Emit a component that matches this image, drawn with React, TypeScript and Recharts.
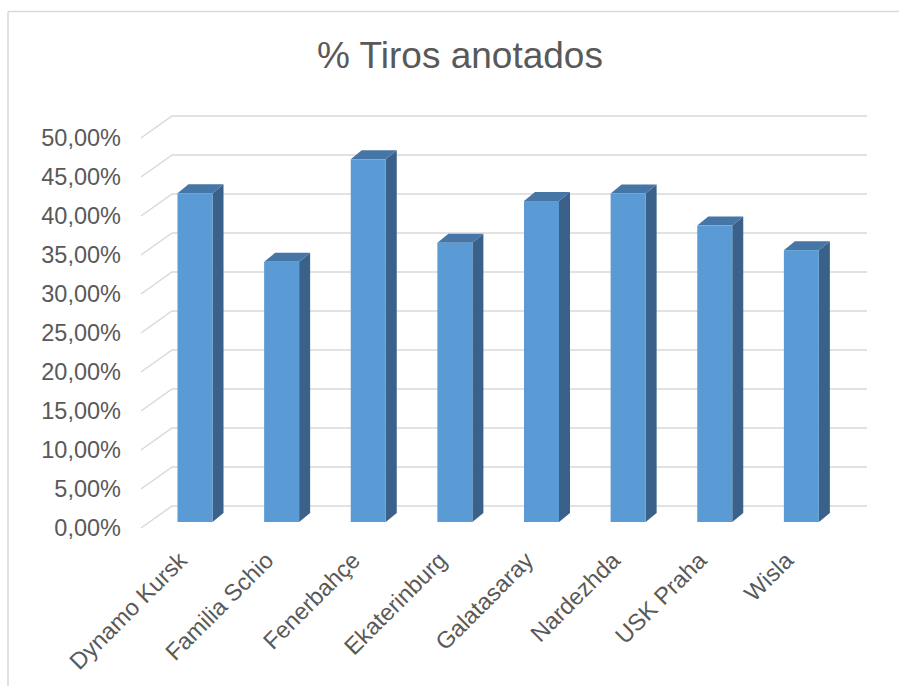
import { BarChart, Bar, XAxis, YAxis, CartesianGrid } from 'recharts'

const teams = ['Dynamo Kursk', 'Familia Schio', 'Fenerbahçe', 'Ekaterinburg', 'Galatasaray', 'Nardezhda', 'USK Praha', 'Wisla']
const shotPct = [0.4215, 0.3335, 0.465, 0.358, 0.4115, 0.421, 0.38, 0.3485]
const yTicks = [0, 0.05, 0.1, 0.15, 0.2, 0.25, 0.3, 0.35, 0.4, 0.45, 0.5]

const data = teams.map((name, i) => ({ name, value: shotPct[i] }))

const FONT = '"Liberation Sans", Arial, sans-serif'
const TEXT = '#595959'
const GRID = '#d9d9d9'

// 3D look: how far the bar sits behind the front plane, and its own depth
const BAR_DX = 10.5
const BAR_DY = -6
const DEPTH_X = 11
const DEPTH_Y = -9
// back wall offset from the front edge
const WALL_DX = 31
const WALL_DY = -22

const fmtPct = (v: number) => (v * 100).toFixed(2).replace('.', ',') + '%'

function Box3D(props: any) {
  const { x, y, width, height } = props
  if (height == null || width == null) return null
  const l = x + BAR_DX
  const r = l + width
  const t = y + BAR_DY
  const b = y + height + BAR_DY
  return (
    <g>
      {/* side */}
      <polygon
        points={`${r},${t} ${r + DEPTH_X},${t + DEPTH_Y} ${r + DEPTH_X},${b + DEPTH_Y} ${r},${b}`}
        fill="#396189"
      />
      {/* top */}
      <polygon
        points={`${l},${t} ${l + DEPTH_X},${t + DEPTH_Y} ${r + DEPTH_X},${t + DEPTH_Y} ${r},${t}`}
        fill="#4676a6"
      />
      {/* front */}
      <rect x={l} y={t} width={width} height={b - t} fill="#5b9bd5" />
    </g>
  )
}

function WallLine(props: any) {
  const { x1, y1, x2 } = props
  return (
    <path
      d={`M${x1},${y1} L${x1 + WALL_DX},${y1 + WALL_DY} L${x2 + WALL_DX + 2},${y1 + WALL_DY}`}
      fill="none"
      stroke={GRID}
      strokeWidth={1.5}
    />
  )
}

function TeamTick(props: any) {
  const { x, y, payload } = props
  const ax = x + 4
  return (
    <text
      x={ax}
      y={y}
      transform={`rotate(-45 ${ax} ${y})`}
      textAnchor="end"
      fill={TEXT}
      fontSize={23.5}
      fontFamily={FONT}
    >
      {payload.value}
    </text>
  )
}

export default function App() {
  return (
    <div style={{ position: 'absolute', left: 0, top: 0, width: 899, height: 686, background: '#fff' }}>
      <svg width={899} height={686} style={{ position: 'absolute', left: 0, top: 0 }}>
        <line x1={8} y1={11.5} x2={899} y2={11.5} stroke={GRID} strokeWidth={1.5} />
        <line x1={8} y1={11.5} x2={8} y2={686} stroke={GRID} strokeWidth={1.5} />
        <text x={460} y={67.5} textAnchor="middle" fill={TEXT} fontSize={37} fontFamily={FONT}>
          % Tiros anotados
        </text>
      </svg>
      <div style={{ position: 'absolute', left: 0, top: 0 }}>
        <BarChart width={899} height={686} data={data} margin={{ top: 138, right: 65, bottom: 8, left: 0 }}>
          <CartesianGrid vertical={false} horizontal={(p: any) => <WallLine key={p.key} {...p} />} />
          <XAxis
            dataKey="name"
            height={150}
            axisLine={false}
            tickLine={false}
            tickSize={0}
            tickMargin={34}
            interval={0}
            tick={<TeamTick />}
          />
          <YAxis
            width={141}
            domain={[0, 0.5]}
            ticks={yTicks}
            tickFormatter={fmtPct}
            axisLine={false}
            tickLine={false}
            tickSize={0}
            tickMargin={20}
            tick={{ fill: TEXT, fontSize: 23.5, fontFamily: FONT }}
          />
          <Bar dataKey="value" barSize={35} shape={<Box3D />} isAnimationActive={false} />
        </BarChart>
      </div>
    </div>
  )
}
